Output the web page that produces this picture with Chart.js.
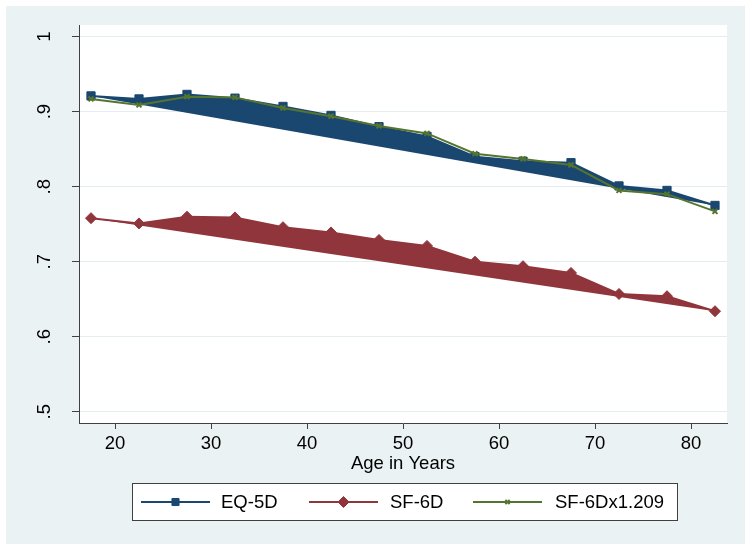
<!DOCTYPE html>
<html>
<head>
<meta charset="utf-8">
<script src="https://cdn.jsdelivr.net/npm/chart.js@4/dist/chart.umd.min.js"></script>
<style>
  html, body { margin: 0; padding: 0; background: #ffffff; }
  #c { display: block; }
</style>
</head>
<body>
<canvas id="c" width="751" height="550"></canvas>
<script>
const ages = [17.5, 22.5, 27.5, 32.5, 37.5, 42.5, 47.5, 52.5, 57.5, 62.5, 67.5, 72.5, 77.5, 82.5];
const eq5d = [0.921, 0.917, 0.923, 0.918, 0.907, 0.895, 0.880, 0.867, 0.840, 0.834, 0.832, 0.801, 0.795, 0.775];
const sf6d = [0.758, 0.751, 0.760, 0.759, 0.746, 0.739, 0.729, 0.721, 0.700, 0.694, 0.685, 0.657, 0.654, 0.634];
const sf6dScaled = [0.917, 0.909, 0.920, 0.919, 0.905, 0.894, 0.881, 0.871, 0.844, 0.837, 0.829, 0.795, 0.790, 0.767];
const seriesNames = ['EQ-5D', 'SF-6D', 'SF-6Dx1.209'];
const xTicks = [20, 30, 40, 50, 60, 70, 80];
const yTicks = [0.5, 0.6, 0.7, 0.8, 0.9, 1];
const yTickLabels = ['.5', '.6', '.7', '.8', '.9', '1'];
const xTitle = 'Age in Years';

const NAVY = '#1a476f', MAROON = '#90353b', GREEN = '#55752f';
const BG = '#eaf2f3';
const FONT = '18.5px "Liberation Sans", Arial, sans-serif';

const toXY = arr => ages.map((a, i) => ({ x: a, y: arr[i] }));

const plugin = {
  id: 'stataLook',
  beforeDraw(chart) {
    const { ctx, chartArea: a } = chart;
    ctx.save();
    ctx.fillStyle = '#ffffff';
    ctx.fillRect(0, 0, chart.width, chart.height);
    ctx.fillStyle = BG;
    ctx.fillRect(6, 6, chart.width - 12, chart.height - 12);
    ctx.fillStyle = '#ffffff';
    ctx.fillRect(a.left, a.top, a.right - a.left, a.bottom - a.top);
    ctx.restore();
  },
  beforeDatasetsDraw(chart) {
    const { ctx } = chart;
    chart.data.datasets.forEach((ds, i) => {
      if (!ds.polyFill) return;
      const meta = chart.getDatasetMeta(i);
      ctx.save();
      ctx.fillStyle = ds.borderColor;
      ctx.beginPath();
      meta.data.forEach((p, j) => { if (j === 0) ctx.moveTo(p.x, p.y); else ctx.lineTo(p.x, p.y); });
      ctx.closePath();
      ctx.fill();
      ctx.restore();
    });
  },
  afterDraw(chart) {
    const { ctx, chartArea: a } = chart;
    const xs = chart.scales.x, ys = chart.scales.y;
    ctx.save();
    ctx.fillStyle = '#000000';
    ctx.font = FONT;
    ctx.textAlign = 'center';
    ctx.textBaseline = 'middle';
    yTicks.forEach((v, i) => {
      const y = ys.getPixelForValue(v);
      ctx.save();
      ctx.translate(45, y);
      ctx.rotate(-Math.PI / 2);
      ctx.fillText(yTickLabels[i], 0, 0);
      ctx.restore();
    });
    xTicks.forEach(v => {
      ctx.fillText(String(v), xs.getPixelForValue(v), 444);
    });
    ctx.fillText(xTitle, (a.left + a.right) / 2, 464);

    // legend
    const bx = 132, by = 483, bw = 545, bh = 37;
    ctx.fillStyle = '#ffffff';
    ctx.fillRect(bx, by, bw, bh);
    ctx.strokeStyle = '#404040';
    ctx.lineWidth = 1;
    ctx.strokeRect(bx + 0.5, by + 0.5, bw, bh);
    const ly = 502;
    const items = [
      { x1: 141, x2: 210, tx: 221, ds: 0, r: 5 },
      { x1: 309, x2: 378, tx: 390, ds: 1, r: 5.5 },
      { x1: 473, x2: 542, tx: 555, ds: 2, r: 3 }
    ];
    items.forEach(it => {
      const ds = chart.data.datasets[it.ds];
      ctx.strokeStyle = ds.borderColor;
      ctx.lineWidth = 2;
      ctx.beginPath();
      ctx.moveTo(it.x1, ly);
      ctx.lineTo(it.x2, ly);
      ctx.stroke();
      ctx.fillStyle = ds.borderColor;
      ctx.strokeStyle = ds.borderColor;
      ctx.lineWidth = ds.pointBorderWidth || 1;
      Chart.helpers.drawPoint(ctx, {
        pointStyle: ds.pointStyle,
        radius: it.r,
        rotation: 0,
        borderWidth: ds.pointBorderWidth || 1
      }, (it.x1 + it.x2) / 2, ly);
      ctx.fillStyle = '#000000';
      ctx.textAlign = 'left';
      ctx.fillText(seriesNames[it.ds], it.tx, ly + 1);
    });
    ctx.restore();
  }
};

const chart = new Chart(document.getElementById('c'), {
  type: 'line',
  data: {
    datasets: [
      {
        label: seriesNames[0], data: toXY(eq5d), borderColor: NAVY, backgroundColor: NAVY,
        borderWidth: 2, pointStyle: 'rect', pointRadius: 5.8, pointBorderWidth: 1,
        pointBackgroundColor: NAVY, polyFill: true, order: 2, tension: 0
      },
      {
        label: seriesNames[1], data: toXY(sf6d), borderColor: MAROON, backgroundColor: MAROON,
        borderWidth: 2, pointStyle: 'rectRot', pointRadius: 5.5, pointBorderWidth: 1,
        pointBackgroundColor: MAROON, polyFill: true, order: 1, tension: 0
      },
      {
        label: seriesNames[2], data: toXY(sf6dScaled), borderColor: GREEN, backgroundColor: GREEN,
        borderWidth: 2, pointStyle: 'crossRot', pointRadius: 3.5, pointBorderWidth: 2,
        pointBackgroundColor: GREEN, order: 0, tension: 0
      }
    ]
  },
  options: {
    responsive: false,
    animation: false,
    devicePixelRatio: 1,
    layout: { padding: { top: 25, right: 24, left: 0, bottom: 0 } },
    plugins: { legend: { display: false }, tooltip: { enabled: false } },
    scales: {
      x: {
        type: 'linear', min: 16.25, max: 83.75,
        afterFit(s) { s.height = 127; },
        afterBuildTicks(s) { s.ticks = xTicks.map(v => ({ value: v })); },
        ticks: { display: false },
        grid: { drawOnChartArea: false, drawTicks: true, tickLength: 6, tickColor: '#404040', tickWidth: 1 },
        border: { display: true, color: '#404040', width: 1 }
      },
      y: {
        type: 'linear', min: 0.485, max: 1.0155,
        afterFit(s) { s.width = 79; },
        afterBuildTicks(s) { s.ticks = yTicks.map(v => ({ value: v })); },
        ticks: { display: false },
        grid: { color: '#e3ecee', lineWidth: 1, drawTicks: true, tickLength: 7, tickColor: '#404040', tickWidth: 1 },
        border: { display: true, color: '#404040', width: 1 }
      }
    }
  },
  plugins: [plugin]
});
</script>
</body>
</html>
